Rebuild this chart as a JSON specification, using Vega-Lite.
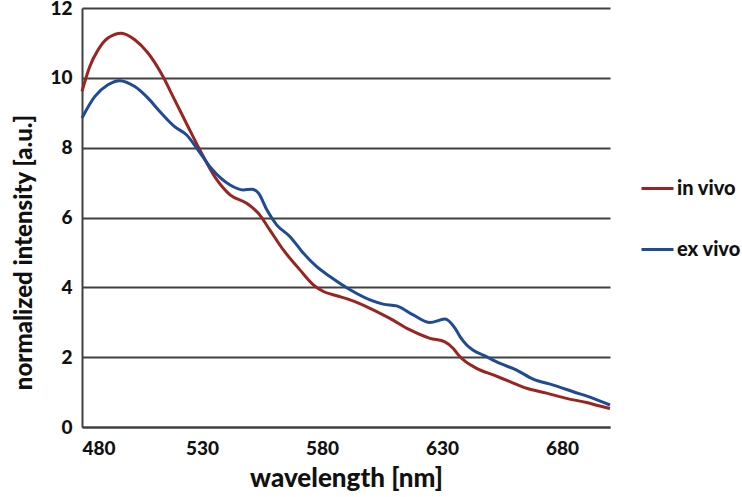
{
  "$schema": "https://vega.github.io/schema/vega-lite/v6.json",
  "width": 528,
  "height": 419,
  "autosize": {"type": "none"},
  "padding": {"left": 82, "top": 8, "right": 132, "bottom": 70},
  "background": "white",
  "config": {
    "view": {"stroke": null},
    "font": "Lato",
    "axis": {
      "labelFont": "Lato",
      "labelFontWeight": 900,
      "labelFontSize": 19,
      "labelColor": "#111111",
      "titleFont": "Lato",
      "titleFontWeight": 900,
      "titleFontSize": 25,
      "titleColor": "#111111",
      "domainColor": "#404040",
      "domainWidth": 2,
      "gridColor": "#404040",
      "gridWidth": 2,
      "gridOpacity": 1,
      "ticks": false,
      "tickSize": 0
    },
    "legend": {
      "labelFont": "Lato",
      "labelFontWeight": 900,
      "labelFontSize": 20,
      "labelColor": "#111111"
    }
  },
  "data": {
    "values": [
      {"wl": 480, "v": 9.61, "s": "in vivo"},
      {"wl": 483.2, "v": 10.32, "s": "in vivo"},
      {"wl": 486.7, "v": 10.80, "s": "in vivo"},
      {"wl": 490.8, "v": 11.14, "s": "in vivo"},
      {"wl": 496.4, "v": 11.28, "s": "in vivo"},
      {"wl": 502, "v": 11.09, "s": "in vivo"},
      {"wl": 507.5, "v": 10.71, "s": "in vivo"},
      {"wl": 513, "v": 10.13, "s": "in vivo"},
      {"wl": 518.6, "v": 9.37, "s": "in vivo"},
      {"wl": 524.2, "v": 8.60, "s": "in vivo"},
      {"wl": 529, "v": 7.95, "s": "in vivo"},
      {"wl": 535.5, "v": 7.15, "s": "in vivo"},
      {"wl": 541.7, "v": 6.65, "s": "in vivo"},
      {"wl": 548.6, "v": 6.41, "s": "in vivo"},
      {"wl": 553.5, "v": 6.12, "s": "in vivo"},
      {"wl": 558.3, "v": 5.64, "s": "in vivo"},
      {"wl": 563.9, "v": 5.07, "s": "in vivo"},
      {"wl": 570.8, "v": 4.50, "s": "in vivo"},
      {"wl": 576.4, "v": 4.07, "s": "in vivo"},
      {"wl": 580.6, "v": 3.88, "s": "in vivo"},
      {"wl": 586.1, "v": 3.76, "s": "in vivo"},
      {"wl": 591.7, "v": 3.64, "s": "in vivo"},
      {"wl": 600, "v": 3.40, "s": "in vivo"},
      {"wl": 608.3, "v": 3.11, "s": "in vivo"},
      {"wl": 616.7, "v": 2.78, "s": "in vivo"},
      {"wl": 625, "v": 2.54, "s": "in vivo"},
      {"wl": 631.2, "v": 2.44, "s": "in vivo"},
      {"wl": 634.7, "v": 2.25, "s": "in vivo"},
      {"wl": 637.5, "v": 2.01, "s": "in vivo"},
      {"wl": 644.4, "v": 1.68, "s": "in vivo"},
      {"wl": 651.4, "v": 1.49, "s": "in vivo"},
      {"wl": 658.3, "v": 1.30, "s": "in vivo"},
      {"wl": 665.3, "v": 1.11, "s": "in vivo"},
      {"wl": 673.6, "v": 0.97, "s": "in vivo"},
      {"wl": 681.9, "v": 0.82, "s": "in vivo"},
      {"wl": 690.3, "v": 0.70, "s": "in vivo"},
      {"wl": 695.8, "v": 0.60, "s": "in vivo"},
      {"wl": 700, "v": 0.53, "s": "in vivo"},
      {"wl": 480, "v": 8.85, "s": "ex vivo"},
      {"wl": 485.3, "v": 9.46, "s": "ex vivo"},
      {"wl": 490.8, "v": 9.80, "s": "ex vivo"},
      {"wl": 495.7, "v": 9.92, "s": "ex vivo"},
      {"wl": 502, "v": 9.75, "s": "ex vivo"},
      {"wl": 507.5, "v": 9.42, "s": "ex vivo"},
      {"wl": 513, "v": 8.99, "s": "ex vivo"},
      {"wl": 518.6, "v": 8.60, "s": "ex vivo"},
      {"wl": 523.5, "v": 8.37, "s": "ex vivo"},
      {"wl": 528.3, "v": 7.94, "s": "ex vivo"},
      {"wl": 534.2, "v": 7.38, "s": "ex vivo"},
      {"wl": 541.7, "v": 6.93, "s": "ex vivo"},
      {"wl": 547.2, "v": 6.79, "s": "ex vivo"},
      {"wl": 550.7, "v": 6.81, "s": "ex vivo"},
      {"wl": 553.5, "v": 6.70, "s": "ex vivo"},
      {"wl": 557, "v": 6.22, "s": "ex vivo"},
      {"wl": 561.1, "v": 5.79, "s": "ex vivo"},
      {"wl": 566.7, "v": 5.45, "s": "ex vivo"},
      {"wl": 572.2, "v": 4.98, "s": "ex vivo"},
      {"wl": 577.8, "v": 4.59, "s": "ex vivo"},
      {"wl": 583.3, "v": 4.31, "s": "ex vivo"},
      {"wl": 591.7, "v": 3.93, "s": "ex vivo"},
      {"wl": 600, "v": 3.64, "s": "ex vivo"},
      {"wl": 605.5, "v": 3.52, "s": "ex vivo"},
      {"wl": 611.1, "v": 3.47, "s": "ex vivo"},
      {"wl": 618, "v": 3.21, "s": "ex vivo"},
      {"wl": 625, "v": 2.99, "s": "ex vivo"},
      {"wl": 631.2, "v": 3.09, "s": "ex vivo"},
      {"wl": 635.4, "v": 2.83, "s": "ex vivo"},
      {"wl": 637.5, "v": 2.59, "s": "ex vivo"},
      {"wl": 640.3, "v": 2.35, "s": "ex vivo"},
      {"wl": 643, "v": 2.20, "s": "ex vivo"},
      {"wl": 647.2, "v": 2.06, "s": "ex vivo"},
      {"wl": 654.2, "v": 1.82, "s": "ex vivo"},
      {"wl": 661.1, "v": 1.63, "s": "ex vivo"},
      {"wl": 668, "v": 1.37, "s": "ex vivo"},
      {"wl": 676.4, "v": 1.20, "s": "ex vivo"},
      {"wl": 684.7, "v": 1.01, "s": "ex vivo"},
      {"wl": 693, "v": 0.82, "s": "ex vivo"},
      {"wl": 700, "v": 0.63, "s": "ex vivo"}
    ]
  },
  "mark": {"type": "line", "strokeWidth": 3, "interpolate": "monotone"},
  "encoding": {
    "x": {
      "field": "wl",
      "type": "quantitative",
      "scale": {"domain": [480, 700], "nice": false, "zero": false},
      "axis": {
        "values": [480, 530, 580, 630, 680],
        "grid": false,
        "domain": true,
        "labelPadding": 12,
        "title": "wavelength [nm]",
        "titleFontSize": 26,
        "titleX": 264,
        "titleY": 51,
        "titleBaseline": "middle",
        "titleAnchor": "middle"
      }
    },
    "y": {
      "field": "v",
      "type": "quantitative",
      "scale": {"domain": [0, 12], "nice": false},
      "axis": {
        "values": [0, 2, 4, 6, 8, 10, 12],
        "grid": true,
        "domain": true,
        "labelPadding": 10,
        "title": "normalized intensity [a.u.]",
        "titleFontSize": 24,
        "titleX": -58,
        "titleY": 244,
        "titleAngle": -90,
        "titleBaseline": "middle",
        "titleAlign": "center"
      }
    },
    "color": {
      "field": "s",
      "type": "nominal",
      "scale": {"domain": ["in vivo", "ex vivo"], "range": ["#9A2520", "#1F4A94"]},
      "legend": {
        "title": null,
        "orient": "none",
        "legendX": 558,
        "legendY": 163,
        "symbolType": "stroke",
        "symbolSize": 1024,
        "symbolStrokeWidth": 3,
        "rowPadding": 33,
        "labelOffset": 2,
        "labelLimit": 200
      }
    }
  }
}
